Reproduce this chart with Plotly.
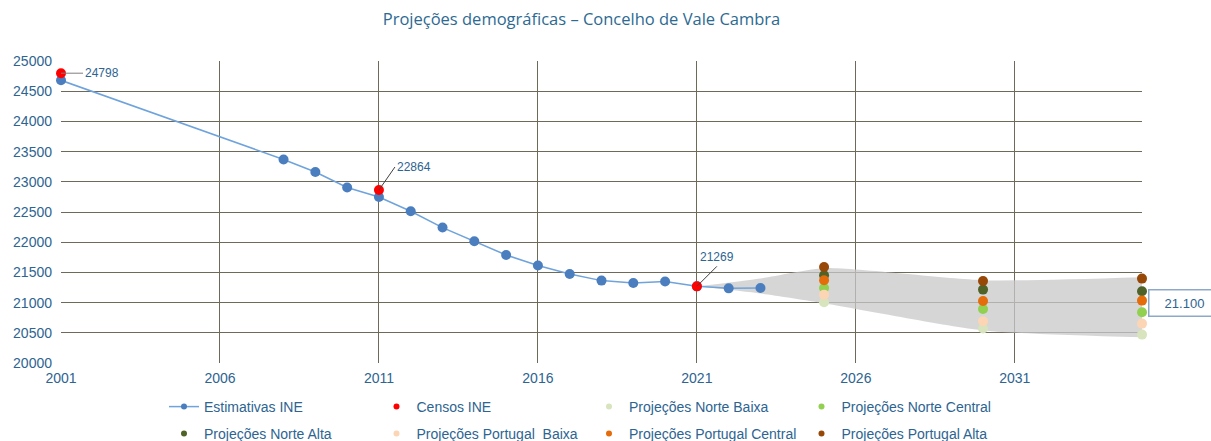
import plotly.graph_objects as go

# ---------------- data ----------------
est_years = [2001, 2008, 2009, 2010, 2011, 2012, 2013, 2014, 2015, 2016, 2017,
             2018, 2019, 2020, 2021, 2022, 2023]
est_values = [24680, 23370, 23162, 22906, 22748, 22512, 22242, 22015, 21788, 21613,
              21474, 21364, 21325, 21348, 21269, 21236, 21242]

censos_years = [2001, 2011, 2021]
censos_values = [24798, 22864, 21269]

proj_years = [2025, 2030, 2035]
norte_baixa = [21005, 20570, 20470]
norte_central = [21242, 20894, 20839]
norte_alta = [21452, 21215, 21187]
portugal_baixa = [21132, 20690, 20652]
portugal_central = [21369, 21026, 21033]
portugal_alta = [21589, 21358, 21397]

band_years = [2021, 2023, 2025, 2030, 2035]
band_upper = [21269, 21400, 21570, 21370, 21420]
band_lower = [21269, 21150, 20990, 20540, 20425]

x_ticks = [2001, 2006, 2011, 2016, 2021, 2026, 2031]
y_ticks = list(range(20000, 25001, 500))

# ---------------- figure ----------------
label_col = "#2d6491"
text_font = "Liberation Sans, Arial"
fig = go.Figure()

# grey uncertainty band
fig.add_trace(go.Scatter(x=band_years, y=band_upper, mode="lines",
                         line=dict(width=0, shape="spline", smoothing=0.6),
                         showlegend=False, hoverinfo="skip"))
fig.add_trace(go.Scatter(x=band_years, y=band_lower, mode="lines",
                         line=dict(width=0, shape="spline", smoothing=0.6),
                         fill="tonexty", fillcolor="rgba(200,200,200,0.75)",
                         showlegend=False, hoverinfo="skip"))

est_line = "#6fa3dc"
est_marker = "#4a7ebf"
fig.add_trace(go.Scatter(x=est_years, y=est_values, mode="lines+markers",
                         name="Estimativas INE", showlegend=False, cliponaxis=False,
                         line=dict(color=est_line, width=1.5),
                         marker=dict(color=est_marker, size=10)))
fig.add_trace(go.Scatter(x=censos_years, y=censos_values, mode="markers",
                         name="Censos INE", showlegend=False, cliponaxis=False,
                         marker=dict(color="#ff0000", size=10)))

proj = [
    ("Projeções Norte Baixa", norte_baixa, "#d7e4bd"),
    ("Projeções Norte Central", norte_central, "#92d050"),
    ("Projeções Norte Alta", norte_alta, "#4f6228"),
    ("Projeções Portugal  Baixa", portugal_baixa, "#fcd5b4"),
    ("Projeções Portugal Central", portugal_central, "#e46c0a"),
    ("Projeções Portugal Alta", portugal_alta, "#974806"),
]
for name, vals, col in proj:
    fig.add_trace(go.Scatter(x=proj_years, y=vals, mode="markers", name=name,
                             showlegend=False, cliponaxis=False,
                             marker=dict(color=col, size=10)))

# legend entries (small symbols, two rows of four)
legend_items = [("Estimativas INE", est_marker, True), ("Censos INE", "#ff0000", False)] + \
               [(n, c, False) for n, _, c in proj]
for i, (name, col, has_line) in enumerate(legend_items):
    fig.add_trace(go.Scatter(x=[None], y=[None], name=name,
                             mode="lines+markers" if has_line else "markers",
                             line=dict(color=est_line, width=1.5),
                             marker=dict(color=col, size=6),
                             legend="legend" if i < 4 else "legend2",
                             showlegend=True, hoverinfo="skip"))

# data labels
ann_font = dict(family=text_font, size=12, color=label_col)
fig.add_annotation(x=censos_years[0], y=censos_values[0], text=str(censos_values[0]),
                   showarrow=True, arrowhead=0, arrowcolor="#7f7f7f", arrowwidth=1,
                   ax=22, ay=0, font=ann_font, xanchor="left")
fig.add_annotation(x=censos_years[1], y=censos_values[1], text=str(censos_values[1]),
                   showarrow=True, arrowhead=0, arrowcolor="#404040", arrowwidth=1,
                   ax=16, ay=-23, font=ann_font, xanchor="left")
fig.add_annotation(x=censos_years[2], y=censos_values[2], text=str(censos_values[2]),
                   showarrow=True, arrowhead=0, arrowcolor="#404040", arrowwidth=1,
                   ax=20, ay=-20, font=ann_font, xanchor="center", yanchor="bottom")
fig.add_annotation(x=2035, y=21000, text="21.100", showarrow=False,
                   xanchor="left", xshift=6, font=dict(family=text_font, size=13, color=label_col),
                   bordercolor="#8ea9c8", borderwidth=1.5, borderpad=5,
                   bgcolor="white", width=60)

grid_col = "#6e6a5a"
axis_font = dict(family=text_font, size=14, color=label_col)
fig.update_xaxes(range=[2001, 2035], tickvals=x_ticks, showgrid=True,
                 gridcolor=grid_col, gridwidth=1.2, zeroline=False,
                 showline=False, ticks="", tickformat="d",
                 ticklabelstandoff=5, tickfont=axis_font, automargin=False)
fig.update_yaxes(range=[20000, 25000], tickvals=y_ticks, showgrid=True,
                 gridcolor=grid_col, gridwidth=1.2, zeroline=False,
                 showline=False, ticks="", tickformat="d",
                 ticklabelstandoff=8, tickfont=axis_font, automargin=False)

leg_common = dict(orientation="h", xref="container", x=164 / 1211, xanchor="left",
                  yref="container", yanchor="middle",
                  entrywidth=167.5, entrywidthmode="pixels",
                  font=dict(family=text_font, size=14, color=label_col),
                  traceorder="normal", bgcolor="rgba(0,0,0,0)")

fig.update_layout(
    width=1211, height=441,
    paper_bgcolor="white", plot_bgcolor="white",
    margin=dict(l=61, r=69, t=61, b=78, autoexpand=False),
    title=dict(text="Projeções demográficas – Concelho de Vale Cambra",
               x=581.5 / 1211, xanchor="center", y=1 - 19 / 441, yanchor="middle",
               font=dict(family="Open Sans", size=16.5, color="#2c6a92")),
    legend=dict(**leg_common, y=1 - 407 / 441),
    legend2=dict(**leg_common, y=1 - 434 / 441),
    showlegend=True,
)

fig.write_html("out.html", config={"displayModeBar": False},
               post_script="document.body.style.margin='0';")
